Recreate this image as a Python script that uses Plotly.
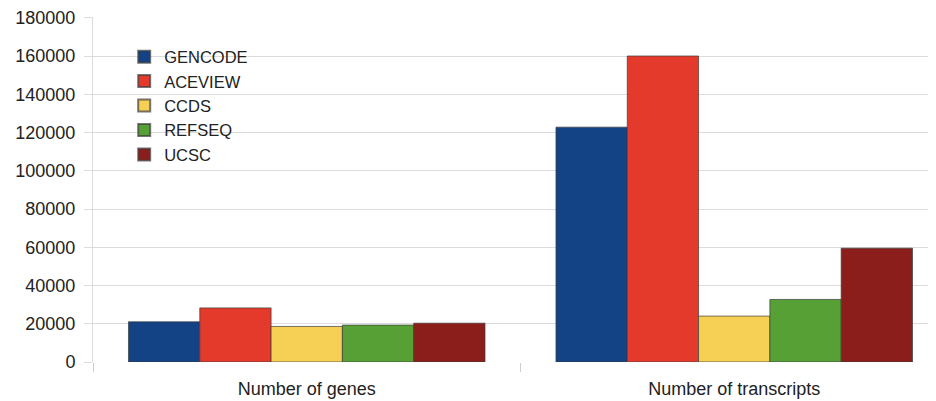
import plotly.graph_objects as go

categories = ["Number of genes", "Number of transcripts"]
series_names = ["GENCODE", "ACEVIEW", "CCDS", "REFSEQ", "UCSC"]
gencode = [21000, 122800]
aceview = [28300, 160000]
ccds = [18600, 24000]
refseq = [19300, 32700]
ucsc = [20300, 59500]
y_ticks = [0, 20000, 40000, 60000, 80000, 100000, 120000, 140000, 160000, 180000]

colors = ["#134285", "#E33A2B", "#F6CF55", "#56A036", "#8B1E1A"]
values = [gencode, aceview, ccds, refseq, ucsc]

fig = go.Figure()
for name, vals, col in zip(series_names, values, colors):
    fig.add_trace(go.Bar(
        name=name, x=categories, y=vals,
        marker=dict(color=col, line=dict(color="rgba(60,60,60,0.7)", width=1)),
    ))

fig.update_layout(
    width=928, height=393,
    margin=dict(l=85, r=0, t=9, b=39),
    paper_bgcolor="white", plot_bgcolor="white",
    barmode="group", bargap=0.166, bargroupgap=0,
    font=dict(family="Liberation Sans, Arial, sans-serif", size=18, color="#222222"),
    showlegend=True,
    legend=dict(x=0.037, y=0.935, xanchor="left", yanchor="top",
                bgcolor="rgba(255,255,255,0)", font=dict(size=16.5),
                tracegroupgap=0, itemsizing="constant"),
)
fig.update_xaxes(
    type="category", range=[-0.5, 1.472], automargin=False,
    tickson="boundaries", ticks="outside", ticklen=9, tickcolor="#cccccc",
    showgrid=False, showline=False, zeroline=False,
    tickfont=dict(size=18), ticklabelstandoff=14,
)
fig.update_yaxes(
    range=[0, 180400], tickvals=y_ticks, ticktext=[str(v) for v in y_ticks],
    showgrid=True, gridcolor="#dcdcdc", gridwidth=1, automargin=False,
    ticks="outside", ticklen=8, tickcolor="#dcdcdc",
    showline=True, linecolor="#dcdcdc", linewidth=1,
    zeroline=False, ticklabelstandoff=5, ticklabeloverflow="allow",
    tickfont=dict(size=18),
)

fig.write_html("out.html")
